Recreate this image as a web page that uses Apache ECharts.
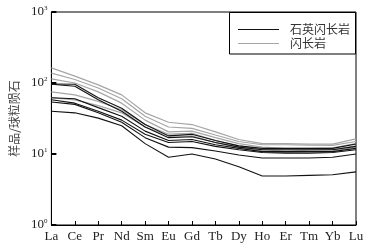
<!DOCTYPE html>
<html><head><meta charset="utf-8">
<script src="https://cdn.jsdelivr.net/npm/echarts@6/dist/echarts.min.js"></script>
<style>html,body{margin:0;padding:0;background:#fff}#c{width:373px;height:247px}</style>
</head><body><div id="c"></div>
<script>
const categories = ['La','Ce','Pr','Nd','Sm','Eu','Gd','Tb','Dy','Ho','Er','Tm','Yb','Lu'];
const yTickLabels = ['10^0','10^1','10^2','10^3'];
const legendNames = ['石英闪长岩','闪长岩'];
// 石英闪长岩 (black)
const qd1 = [97, 96, 62, 44, 26, 18, 19, 15.5, 13, 12, 12, 12, 12, 13.8];
const qd2 = [96, 90, 58, 40, 24, 17, 17.5, 14.5, 12.5, 11.5, 11.5, 11.5, 11.5, 12.8];
const qd3 = [62, 60, 45, 34, 21, 15.5, 16, 13.5, 12, 10.8, 10.8, 10.8, 10.8, 12];
const qd4 = [58, 52, 40, 30, 19, 14.5, 15, 12.8, 11.5, 10.5, 10.3, 10.3, 10.5, 11.5];
const qd5 = [54, 50, 38, 28, 17, 12.5, 12.3, 11, 9.7, 8.8, 8.8, 8.8, 9, 10];
const qd6 = [40, 38, 32, 25, 14, 9, 10, 8.5, 6.6, 4.9, 4.9, 5.0, 5.1, 5.6];
// 闪长岩 (gray)
const d1 = [163, 125, 94, 68, 38, 28, 26, 20.5, 16, 14, 14, 13.8, 13.8, 16.3];
const d2 = [138, 112, 85, 60, 34, 24, 23, 18.5, 15, 13.5, 13.5, 13.3, 13.2, 15];
const d3 = [114, 100, 75, 52, 30, 20.5, 21, 17, 14, 12.5, 12, 12, 12.2, 14];
const d4 = [75, 68, 55, 42, 26, 19, 19.5, 15.5, 13, 11.5, 11, 11.3, 11.5, 13];
const d5 = [62, 58, 48, 38, 24, 18, 18, 14.5, 12.5, 11, 10.5, 10.8, 11, 12.5];

const BLACK = '#111', GRAY = '#a6a6a6';
const blackSets = [qd1, qd2, qd3, qd4, qd5, qd6];
const graySets = [d1, d2, d3, d4, d5];
const series = [];
graySets.forEach(d => series.push({type:'line', name:legendNames[1], data:d, symbol:'none', lineStyle:{color:GRAY, width:1.2}}));
blackSets.forEach(d => series.push({type:'line', name:legendNames[0], data:d, symbol:'none', lineStyle:{color:BLACK, width:1.1}}));

const chart = echarts.init(document.getElementById('c'));
chart.setOption({
  animation:false,
  grid:{left:50, right:17, top:12, bottom:22, show:true, borderColor:'#000', borderWidth:1},
  graphic:[
    {type:'rect', shape:{x:229.5, y:12.5, width:126, height:41.5}, style:{fill:'#fff', stroke:'#000', lineWidth:1}, z:100},
    {type:'line', shape:{x1:238, y1:29.5, x2:279, y2:29.5}, style:{stroke:BLACK, lineWidth:1.2}, z:101},
    {type:'line', shape:{x1:238, y1:43.5, x2:279, y2:43.5}, style:{stroke:GRAY, lineWidth:1.2}, z:101},
    {type:'text', x:290, y:29, style:{text:legendNames[0], font:'12px "Noto Sans CJK SC"', fill:'#333', verticalAlign:'middle'}, z:101},
    {type:'text', x:290, y:43, style:{text:legendNames[1], font:'12px "Noto Sans CJK SC"', fill:'#333', verticalAlign:'middle'}, z:101}
  ],
  xAxis:{type:'category', data:categories, boundaryGap:false,
    axisLine:{lineStyle:{color:'#000', width:1}},
    axisTick:{inside:true, length:4, lineStyle:{color:'#000'}},
    axisLabel:{fontFamily:'Liberation Serif', fontSize:13, color:'#222', margin:5, interval:0}},
  yAxis:{type:'log', logBase:10, min:1, max:1000,
    name:'样品/球粒陨石', nameLocation:'middle', nameGap:29, nameRotate:90,
    nameTextStyle:{fontFamily:'Noto Sans CJK SC', fontSize:12, color:'#444'},
    axisLine:{show:true, lineStyle:{color:'#000', width:1}},
    axisTick:{show:true, inside:true, length:5, lineStyle:{color:'#000', width:2}},
    splitLine:{show:false}, minorTick:{show:false},
    axisLabel:{margin:4, formatter:(v)=>{const e=Math.round(Math.log10(v)); const lbl=yTickLabels[e]||''; const p=lbl.split('^'); return '{b|'+p[0]+'}{s|'+p[1]+'}';},
      rich:{b:{fontFamily:'Liberation Serif', fontSize:13, color:'#222'}, s:{fontFamily:'Liberation Serif', fontSize:7, color:'#222', padding:[0,0,8,0]}}}},
  series:series
});
</script></body></html>
